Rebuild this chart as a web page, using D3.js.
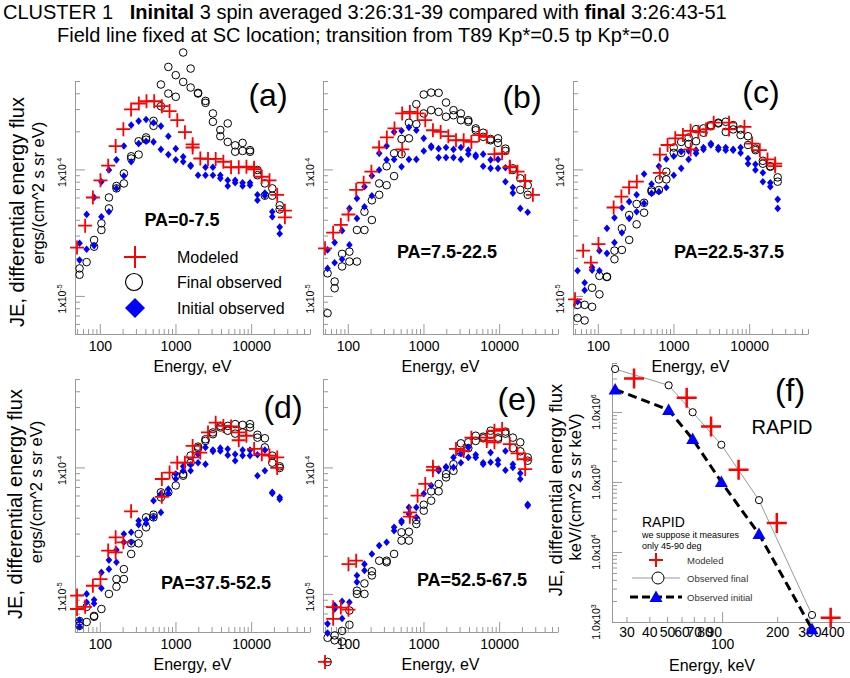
<!DOCTYPE html>
<html>
<head>
<meta charset="utf-8">
<script src="https://cdn.jsdelivr.net/npm/d3@7"></script>
<style>
body { margin: 0; background: #fff; }
svg { font-family: "Liberation Sans", Arial, sans-serif; }
</style>
</head>
<body>
<svg width="850" height="678"></svg>
<script>
// energy channels (eV): observed and modelled
var energyObs = [54, 67, 84, 105, 132, 166, 208, 260, 326, 409, 513, 642, 805, 1009, 1265, 1586, 1988, 2492, 3124, 3916, 4908, 6152, 7712, 9667, 12117, 15189, 19039, 23866];
var energyMod = [50, 64, 81, 102, 129, 162, 205, 259, 328, 414, 523, 661, 836, 1056, 1334, 1686, 2130, 2692, 3401, 4298, 5431, 6863, 8672, 10958, 13847, 17497, 22110, 27939];

// flux values in units of 1e-5 ergs/(cm^2 s sr eV); pairs = two spins at one energy
var fluxUnit = 1e-5;

var initA = [[2.61,1.92],[4.41,2.34],[6.01,2.50],[8.0,4.23],[9.9,4.63],[11.9,7.08],[15.3,8.86],[22.4,11.5],[24.1,16.0],[24.8,16.7],[23.4,16.5],[22.0,14.4],[18.3,13.1],[14.6,11.9],[12.6,11.5],[10.8,10.6],[9.0],[10.4,9.0],[10.4,9.0],[9.0,8.5],[8.2,7.4],[8.2,7.85],[7.85,7.4],[7.85,7.5],[6.3,5.7],[6.5,6.2],[4.63,4.23],[3.5,3.1]];
var finalA = [[1.65,1.47],[1.85],[2.77,2.45],[3.75,3.32],[6.0,4.92],[7.4,7.08],[9.3,7.75],[12.7,12.2],[16.7,13.1],[17.9,17.2],[24.2,22.1],[31.6,46.9],[64.6,39.8],[55.6,37.5],[84,49.2],[62.7,44.4],[39.8,40.3],[34.8,33.6],[27.7,23.8],[20.5,18.3],[23.1,16.5],[15.5,13.8],[14.0,16.2],[14.2,13.8],[9.9,9.0],[7.75,6.2],[7.08,6.2],[5.2,4.83]];
var modelA = [2.41,3.59,6.0,8.2,10.7,15.3,20.8,29.8,33.2,34.6,34.6,31.6,28.9,24.5,19.7,[15.8,14.9],12.2,12.1,12.1,11.5,10.4,10.4,10.5,[10.3,10.0],8.75,8.2,6.3,[4.72,4.18]];

var initB = [[2.31,1.65],[2.64,1.83],[3.28,1.95],[4.92,2.53],[5.9,4.10],[7.3,5.07],[8.9,6.2],[13.4,9.9],[15.3,11.9],[19.8,12.0],[20.2,10.5],[21.5,12.0],[20.4,12.0],[17.6,14.0],[15.3,14.9],[14.6,12.4],[14.9,12.4],[14.4,12.4],[14.9,12.0],[14.2,13.2],[13.0,12.6],[13.2,10.6],[11.9,10.2],[12.0,10.2],[10.3,8.0],[7.2,6.5],[4.92],[4.58]];
var finalB = [[1.51,0.73],[1.30,1.15],[1.71,2.15],[2.24,1.87],[1.87,3.32],[3.32,4.63],[3.98,5.7],[6.3,7.75],[7.5,10.6],[8.86,13.4],[17.4,13.2],[17.6,23.4],[22.8,32.8],[39.1,27.7],[40.5,29.4],[40.3,28.5],[33.8,26.1],[29.4,26.8],[27.7,24.5],[24.5,23.8],[21.1,20.4],[19.5,18.1],[17.4,17.0],[17.6,16.2],[14.6,14.0],[10.2,9.9],[8.5,6.9],[7.5,6.3]];
var modelB = [2.38,3.16,3.64,4.4,6.9,7.85,9.6,14.9,17.9,21.1,[27.7,14.4],28.5,27.7,24.5,20.4,19.8,18.3,17.0,17.0,16.5,18.7,18.1,13.2,13.4,[10.5,10.4],9.6,8.1,6.3];

var initC = [[1.58,0.90],[1.27,1.11],[1.68,1.60],[2.28,1.58],[3.42,2.17],[4.15,2.64],[4.98,3.16],[5.56,4.10],[6.3,4.63],[9.2,5.4],[7.66,6.47],[10.6,6.67],[12.1,7.2],[12.7,9.0],[13.8,10.2],[14.0,12.0],[14.2,13.4],[14.9,14.4],[16.0,15.6],[14.9,14.4],[14.9,14.2],[14.4,14.2],[14.9,13.5],[12.2,11.1],[9.9,11.0],[9.4,8.0],[7.85,7.3],[5.8,4.92]];
var finalC = [[0.67,0.85],[0.64,0.85],[0.82,1.16],[1.03,1.44],[1.42,1.41],[1.95,2.28],[2.31,3.42],[2.77,4.36],[3.68,5.33],[4.55,5.45],[6.87,6.67],[6.87,8.34],[9.6,8.34],[13.5,14.9],[16.5,13.5],[17.9,15.9],[16.7,20.8],[19.5,21.1],[22.0,22.4],[23.1,23.4],[23.8,19.8],[22.4,20.7],[20.7,18.7],[18.3,15.6],[14.6,14.2],[11.7,11.1],[10.6,10.5],[8.65,8.0]];
var modelC = [0.94,2.28,1.83,2.57,null,5.0,6.1,7.2,8.0,null,null,[13.1,9.4],15.6,17.6,18.7,[20.2,14.4],19.8,20.7,23.4,null,[23.4,20.7],null,21.7,16.0,14.2,12.0,[11.1,10.6],null];

var initD = [[0.62,0.55],[1.0,0.86],[0.90,0.84],[1.48,1.11],[1.85,1.57],[2.22,1.78],[2.98,2.56],[3.07,2.56],[3.79,3.53],[3.84,3.61],[5.46,4.03],[6.2,4.41],[6.24,6.74],[8.1,8.86],[10.2,9.4],[10.5,9.4],[10.9,12.7],[10.6,14.4],[13.7,13.4],[14.2,13.5],[14.0,12.5],[12.7,11.3],[13.7,12.4],[13.7,12.4],[8.6,12.6],[9.4,13.7],[6.35,6.24],[5.8,5.6]];
var finalD = [[0.61,0.56],[0.60,0.79],[0.66,0.67],[0.76],[1.0],[1.31,1.14],[1.57,1.31],[2.07,2.51],[2.51,2.98],[3.36,4.03],[4.23,4.03],[5.8,6.35],[6.35],[7.2,8.6],[8.86,8.6],[10.9,12.4],[14.2,14.6],[16.2,16.7],[18.9,18.3],[21.3,20.7],[21.3,19.5],[22.0,18.5],[21.7,18.9],[22.0,20.7],[18.1,17.2],[17.0,14.4],[12.4,10.9],[10.2,9.9]];
var modelD = [[0.97,0.76],0.79,1.16,1.31,2.20,[2.80,2.13],2.56,4.5,null,null,null,[8.1,5.86],9.1,10.9,10.9,[14.8,12.0],13.1,18.9,22.6,21.3,21.1,[18.9,16.4],17.8,14.0,12.7,12.4,[12.0,9.9],null];

var initE = [[0.58,0.49],[0.81,0.76],[0.875,0.64],[0.86],[1.24,1.40],[1.72,1.53],[2.07],[2.41],[2.56],[3.36,3.16],[3.79,3.68],[4.83,4.29],[4.83,4.03],[6.2],[7.2],[9.4,9.7],[10.0,10.1],[12.0,10.0],[12.9,10.9],[14.4,12.0],[12.6,12.0],[10.9,10.6],[13.1,11.0],[11.4,10.6],[13.5,9.5],[10.6,10.0],[9.0,8.1],[5.1,4.98]];
var finalE = [[0.45,0.29],[0.43,0.47],[0.51,0.42],[0.57,0.74],[1.0,1.06],[1.0,1.21],[1.51,1.40],[1.83],[1.78,1.83],[2.07],[3.07,2.64],[3.1,2.64],[3.57,3.84],[5.07,4.55],[5.46,6.47],[7.4,6.47],[8.34,8.86],[9.4,10.6],[13.1,15.5],[15.8,14.2],[17.8,16.2],[17.5,17.0],[18.1,19.5],[16.7,17.2],[18.5,19.2],[17.2,14.2],[15.8,13.4],[12.0,11.3]];
var modelE = [0.29,[0.785,0.635],0.78,[0.75,1.72],1.83,null,null,null,null,null,null,[4.41,4.08],5.98,7.4,[10.1,9.5],null,null,14.0,13.5,17.2,null,[17.2,16.2],[19.5,15.8],20.1,15.3,12.9,[11.6,9.7],null];

// RAPID (keV, keV/(cm^2 s sr keV))
var rapidEnergy = [26, 51, 69, 99, 159, 310];
var rapidFinal = [4.1e6, 2.4e6, 9.9e5, 3.4e5, 5.5e4, 1.26e3];
var rapidInit = [2.1e6, 1.07e6, 4.1e5, 1.0e5, 1.8e4, 7.9e2];
var rapidModelEnergy = [33, 64, 87, 123, 199, 392];
var rapidModel = [3.0e6, 1.6e6, 6.2e5, 1.5e5, 2.6e4, 1.15e3];

var xTickLabels = [100, 1000, 10000];
var rapidTickLabels = [30, 40, 50, 60, 70, 80, 90, 100, 200, 300, 400];
var panelTags = ["(a)", "(b)", "(c)", "(d)", "(e)"];
var paLabels = ["PA=0-7.5", "PA=7.5-22.5", "PA=22.5-37.5", "PA=37.5-52.5", "PA=52.5-67.5"];

var svg = d3.select("svg");
var W = 235, H = 253;
var axisColor = "#999";

function isDecade(t) { var l = Math.log10(t); return Math.abs(l - Math.round(l)) < 1e-6; }
function logTicks(lo, hi) {
  var out = [];
  for (var p = Math.floor(Math.log10(lo)); p <= Math.ceil(Math.log10(hi)); p++)
    for (var m = 1; m < 10; m++) {
      var t = m * Math.pow(10, p);
      if (t >= lo * 0.999 && t <= hi * 1.001) out.push(t);
    }
  return out;
}
function pts(vals, en) {
  var out = [];
  vals.forEach(function(v, i) {
    if (v == null) return;
    [].concat(v).forEach(function(f) { out.push({e: en[i], f: f * fluxUnit}); });
  });
  return out;
}
function vtext(cx, cy, size, str, weight) {
  return svg.append("text")
    .attr("transform", "translate(" + (cx + size * 0.36) + "," + cy + ") rotate(-90)")
    .attr("text-anchor", "middle")
    .style("font-size", size + "px")
    .style("font-weight", weight || "normal")
    .text(str);
}
function styleAxis(sel, size) {
  sel.attr("font-family", null).attr("font-size", null);
  sel.select(".domain").attr("stroke", axisColor);
  sel.selectAll(".tick line").attr("stroke", axisColor);
  sel.selectAll(".tick text").style("font-size", size + "px").attr("fill", "#000");
}
function powLabel(g, cx, cy, base, exp) {
  var t = g.append("text")
    .attr("transform", "translate(" + (cx + 4) + "," + cy + ") rotate(-90)")
    .attr("text-anchor", "middle")
    .style("font-size", "10.5px");
  t.append("tspan").text(base);
  t.append("tspan").attr("dy", -4).style("font-size", "7px").text(exp);
}

var crossPath = "M-7,0H7M0,-7V7";
var diamondPath = "M0,-3.8L3.3,0L0,3.8L-3.3,0Z";

var panels = [
  {x0: 75,  y0: 81,  init: initA, fin: finalA, mod: modelA, tx: 268, ty: 106, px: 182, py: 226},
  {x0: 323, y0: 81,  init: initB, fin: finalB, mod: modelB, tx: 522, ty: 108, px: 447, py: 258},
  {x0: 573, y0: 81,  init: initC, fin: finalC, mod: modelC, tx: 761, ty: 103, px: 729, py: 258},
  {x0: 75,  y0: 379, init: initD, fin: finalD, mod: modelD, tx: 283, ty: 418, px: 216, py: 589},
  {x0: 323, y0: 379, init: initE, fin: finalE, mod: modelE, tx: 517, ty: 410, px: 472, py: 586}
];

var xTicks = logTicks(47, 60000);
var yTicks = logTicks(5e-6, 5e-4);

panels.forEach(function(p, i) {
  var x = d3.scaleLog().domain([47, 60000]).range([p.x0, p.x0 + W]);
  var y = d3.scaleLog().domain([5e-6, 5e-4]).range([p.y0 + H, p.y0]);
  var g = svg.append("g");

  g.append("g")
    .attr("transform", "translate(0," + (p.y0 + H) + ")")
    .call(d3.axisBottom(x).tickValues(xTicks).tickSize(-5).tickSizeOuter(0).tickPadding(7)
      .tickFormat(function(d) { return xTickLabels.indexOf(d) >= 0 ? d : ""; }))
    .call(styleAxis, 14)
    .call(function(s) { s.selectAll(".tick line").filter(isDecade).attr("y2", -10); });

  g.append("g")
    .attr("transform", "translate(" + p.x0 + ",0)")
    .call(d3.axisLeft(y).tickValues(yTicks).tickSize(-5).tickSizeOuter(0).tickFormat(""))
    .call(styleAxis, 10)
    .call(function(s) { s.selectAll(".tick line").filter(isDecade).attr("x2", 10); });

  powLabel(g, p.x0 - 13, y(1e-4) + 3, "1x10", "-4");
  powLabel(g, p.x0 - 13, y(1e-5) + 3, "1x10", "-5");

  g.append("text").attr("x", p.x0 + W / 2).attr("y", p.y0 + H + 38)
    .attr("text-anchor", "middle").style("font-size", "16px").text("Energy, eV");

  g.selectAll("circle.fin").data(pts(p.fin, energyObs)).enter().append("circle")
    .attr("cx", function(d) { return x(d.e); }).attr("cy", function(d) { return y(d.f); })
    .attr("r", 3.8).attr("fill", "none").attr("stroke", "#000").attr("stroke-width", 1);
  g.selectAll("path.init").data(pts(p.init, energyObs)).enter().append("path")
    .attr("d", diamondPath).attr("fill", "#0000ff")
    .attr("transform", function(d) { return "translate(" + x(d.e) + "," + y(d.f) + ")"; });
  g.selectAll("path.mod").data(pts(p.mod, energyMod)).enter().append("path")
    .attr("d", crossPath).attr("stroke", "#ff0000").attr("stroke-width", 1.8).attr("fill", "none")
    .attr("transform", function(d) { return "translate(" + x(d.e) + "," + y(d.f) + ")"; });

  g.append("text").attr("x", p.tx).attr("y", p.ty).attr("text-anchor", "middle")
    .style("font-size", "32px").text(panelTags[i]);
  g.append("text").attr("x", p.px).attr("y", p.py).attr("text-anchor", "middle")
    .style("font-size", "18px").style("font-weight", "bold").text(paLabels[i]);
});

// y titles
vtext(17, 212, 20, "JE, differential energy flux");
vtext(38, 193, 16.5, "ergs/(cm^2 s sr eV)");
vtext(15, 504, 20, "JE, differential energy flux");
vtext(36, 492, 16.5, "ergs/(cm^2 s sr eV)");
vtext(555, 490, 18.5, "JE, differential energy flux");
vtext(575, 487, 16.5, "keV/(cm^2 s sr keV)");

// legend in (a)
var leg = svg.append("g");
leg.append("path").attr("d", "M-11,0H11M0,-11V11").attr("stroke", "#ff0000").attr("stroke-width", 2)
  .attr("transform", "translate(135,257)");
leg.append("circle").attr("cx", 134).attr("cy", 282).attr("r", 8.5).attr("fill", "none").attr("stroke", "#000").attr("stroke-width", 1.2);
leg.append("path").attr("d", "M0,-10L10,0L0,10L-10,0Z").attr("fill", "#0000ff").attr("transform", "translate(135,308)");
[["Modeled", 257], ["Final observed", 282], ["Initial observed", 308]].forEach(function(l) {
  leg.append("text").attr("x", 177).attr("y", l[1] + 6).style("font-size", "16px").text(l[0]);
});

// panel (f) RAPID
var xf = d3.scaleLog().domain([25, 500]).range([612, 850]);
var yf = d3.scaleLog().domain([1e3, 5e6]).range([622, 363]);
var gf = svg.append("g");
gf.append("g").attr("transform", "translate(0,622)")
  .call(d3.axisBottom(xf).tickValues(rapidTickLabels).tickSize(-5).tickSizeOuter(0).tickPadding(5)
    .tickFormat(function(d) { return d; }))
  .call(styleAxis, 14)
  .call(function(s) {
    s.selectAll(".tick line").filter(isDecade).attr("y2", -10);
    s.selectAll(".tick text").filter(function(d) { return d === 100; }).attr("dy", "1.6em");
  });
gf.append("g").attr("transform", "translate(612,0)")
  .call(d3.axisLeft(yf).tickValues(logTicks(1e3, 5e6)).tickSize(-5).tickSizeOuter(0).tickFormat(""))
  .call(styleAxis, 10)
  .call(function(s) { s.selectAll(".tick line").filter(isDecade).attr("x2", 10); });
[3, 4, 5, 6].forEach(function(e) { powLabel(gf, 596, yf(Math.pow(10, e)), "1.0x10", String(e)); });
gf.append("text").attr("x", 712).attr("y", 671).attr("text-anchor", "middle").style("font-size", "16px").text("Energy, keV");

var finPts = rapidEnergy.map(function(e, i) { return [e, rapidFinal[i]]; });
var iniPts = rapidEnergy.map(function(e, i) { return [e, rapidInit[i]]; });
var line = d3.line().x(function(d) { return xf(d[0]); }).y(function(d) { return yf(d[1]); });
gf.append("path").attr("d", line(finPts)).attr("fill", "none").attr("stroke", "#999").attr("stroke-width", 1);
gf.append("path").attr("d", line(iniPts)).attr("fill", "none").attr("stroke", "#000").attr("stroke-width", 3).attr("stroke-dasharray", "9,5");
gf.selectAll("circle.rf").data(finPts).enter().append("circle")
  .attr("cx", function(d) { return xf(d[0]); }).attr("cy", function(d) { return yf(d[1]); })
  .attr("r", 3.6).attr("fill", "#fff").attr("stroke", "#000").attr("stroke-width", 1);
var triPath = "M0,-6.5L6.5,5L-6.5,5Z";
gf.selectAll("path.ri").data(iniPts).enter().append("path").attr("d", triPath).attr("fill", "#0000ff")
  .attr("transform", function(d) { return "translate(" + xf(d[0]) + "," + yf(d[1]) + ")"; });
gf.selectAll("path.rm").data(rapidModelEnergy.map(function(e, i) { return [e, rapidModel[i]]; })).enter().append("path")
  .attr("d", "M-10,0H10M0,-10V10").attr("stroke", "#ff0000").attr("stroke-width", 2.5)
  .attr("transform", function(d) { return "translate(" + xf(d[0]) + "," + yf(d[1]) + ")"; });
gf.append("text").attr("x", 790).attr("y", 401).attr("text-anchor", "middle").style("font-size", "32px").text("(f)");
gf.append("text").attr("x", 782).attr("y", 434).attr("text-anchor", "middle").style("font-size", "20px").text("RAPID");

// RAPID legend
gf.append("text").attr("x", 642).attr("y", 527).style("font-size", "14px").text("RAPID");
gf.append("text").attr("x", 642).attr("y", 538).style("font-size", "9px").text("we suppose it measures");
gf.append("text").attr("x", 642).attr("y", 549).style("font-size", "9px").text("only 45-90 deg");
gf.append("path").attr("d", "M-7,0H7M0,-7V7").attr("stroke", "#ff0000").attr("stroke-width", 2).attr("transform", "translate(656,560)");
gf.append("line").attr("x1", 632).attr("x2", 680).attr("y1", 578).attr("y2", 578).attr("stroke", "#999");
gf.append("circle").attr("cx", 658).attr("cy", 578).attr("r", 6).attr("fill", "#fff").attr("stroke", "#000");
gf.append("line").attr("x1", 630).attr("x2", 682).attr("y1", 597).attr("y2", 597).attr("stroke", "#000").attr("stroke-width", 3).attr("stroke-dasharray", "8,4");
gf.append("path").attr("d", triPath).attr("fill", "#0000ff").attr("transform", "translate(656,597)");
[["Modeled", 560], ["Observed final", 578], ["Observed initial", 597]].forEach(function(l) {
  gf.append("text").attr("x", 687).attr("y", l[1] + 3.5).style("font-size", "9.5px").attr("fill", "#333").text(l[0]);
});

// title
var t1 = svg.append("text").attr("x", 3).attr("y", 19).style("font-size", "20px").attr("xml:space", "preserve");
t1.append("tspan").text("CLUSTER 1   ");
t1.append("tspan").style("font-weight", "bold").text("Ininital");
t1.append("tspan").text(" 3 spin averaged 3:26:31-39 compared with ");
t1.append("tspan").style("font-weight", "bold").text("final");
t1.append("tspan").text(" 3:26:43-51");
svg.append("text").attr("x", 57).attr("y", 42).style("font-size", "20px")
  .text("Field line fixed at SC location; transition from T89 Kp*=0.5 tp Kp*=0.0");
</script>
</body>
</html>
